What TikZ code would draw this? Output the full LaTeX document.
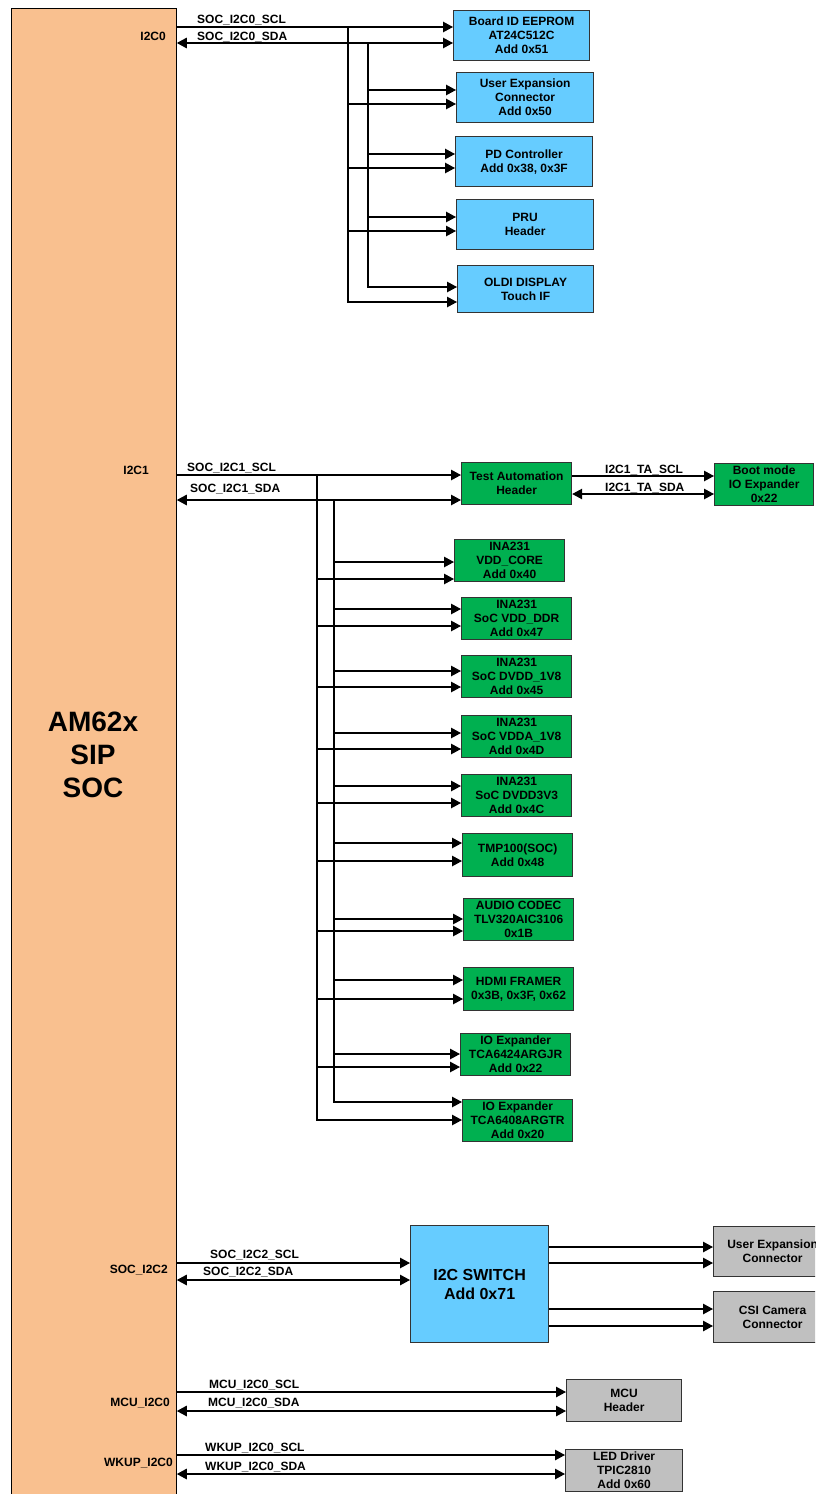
\documentclass[tikz,border=0pt]{standalone}
\usepackage{fontspec}
\setmainfont{Liberation Sans}
\usepackage{tikz}
\usetikzlibrary{arrows.meta}
\usetikzlibrary{positioning}

\definecolor{socorange}{HTML}{F9C08F}
\definecolor{devblue}{HTML}{66CCFF}
\definecolor{devgreen}{HTML}{00B050}
\definecolor{devgrey}{HTML}{C0C0C0}

\tikzset{
    % Solid triangular heads for all the I2C wires
    >={Triangle[length=10pt,width=10.5pt]},
%
    % A single I2C signal wire
    i2c wire/.style={line width=1.2pt},
%
    % The big processor block on the left
    soc block/.style={draw, fill=socorange, line width=0.8pt},
%
    % Boxes for the devices hanging on the buses
    device/.style={
        draw=black!80, line width=1.2pt, align=center, inner sep=0pt,
        anchor=north west, font=\bfseries\fontsize{12}{14}\selectfont},
    blue device/.style={device, fill=devblue},
    green device/.style={device, fill=devgreen},
    grey device/.style={device, fill=devgrey},
%
    % Net names above the wires and port names inside the SoC
    net label/.style={anchor=west, inner sep=0pt, font=\bfseries\fontsize{12}{14}\selectfont},
    port label/.style={anchor=east, inner sep=0pt, font=\bfseries\fontsize{12}{14}\selectfont}}

\begin{document}
\begin{tikzpicture}[x=1pt, y=-1pt]

\useasboundingbox (0,0) rectangle (815,1494);
\clip (0,0) rectangle (815,1494);

% The SoC

\node [soc block, minimum width=165pt, minimum height=1500pt, anchor=north west]
    (soc) at (11,8) {};
\node [align=center, font=\bfseries\fontsize{28}{33}\selectfont] (socname) at (93,755)
    {AM62x\\SIP\\SOC};

\node [port label] (p i2c0) at (166,36) {I2C0};
\node [port label] (p i2c1) at (149,470) {I2C1};
\node [port label] (p i2c2) at (168,1270) {SOC\_I2C2};
\node [port label] (p mcu) at (170,1403) {MCU\_I2C0};
\node [port label] (p wkup) at (173,1463) {WKUP\_I2C0};

% I2C0 devices

\node [blue device, minimum width=136pt, minimum height=50pt] (eeprom) at (453,10)
    {Board ID EEPROM\\AT24C512C\\Add 0x51};
\node [blue device, minimum width=137pt, minimum height=50pt] (ue0) at (456,72)
    {User Expansion\\Connector\\Add 0x50};
\node [blue device, minimum width=137pt, minimum height=50pt] (pd) at (455,136)
    {PD Controller\\Add 0x38, 0x3F};
\node [blue device, minimum width=137pt, minimum height=50pt] (pru) at (456,199)
    {PRU\\Header};
\node [blue device, minimum width=136pt, minimum height=47pt] (oldi) at (457,265)
    {OLDI DISPLAY\\Touch IF};

\coordinate (scl0 bus) at (348,27);
\coordinate (sda0 bus) at (368,43);

\draw [i2c wire, ->] (soc.east |- scl0 bus) -- (eeprom.west |- scl0 bus);
\draw [i2c wire, <->] (soc.east |- sda0 bus) -- (eeprom.west |- sda0 bus);
\node [net label] (n scl0) at (197,20) {SOC\_I2C0\_SCL};
\node [net label] (n sda0) at (197,37) {SOC\_I2C0\_SDA};

\foreach \dev/\ya/\yb in {ue0/90/104, pd/154/168, pru/217/231}
{
    \draw [i2c wire, ->] (sda0 bus |- 0,\ya) -- (\dev.west |- 0,\ya);
    \draw [i2c wire, ->] (scl0 bus |- 0,\yb) -- (\dev.west |- 0,\yb);
}
\draw [i2c wire, ->] (sda0 bus) |- (oldi.west |- 0,287);
\draw [i2c wire, ->] (scl0 bus) |- (oldi.west |- 0,302);

% I2C1 devices

\node [green device, minimum width=110pt, minimum height=42pt] (tah) at (461,462)
    {Test Automation\\Header};
\node [green device, minimum width=99pt, minimum height=42pt] (boot) at (714,463)
    {Boot mode\\IO Expander\\0x22};
\node [green device, minimum width=110pt, minimum height=42pt] (vddcore) at (454,539)
    {INA231\\VDD\_CORE\\Add 0x40};
\node [green device, minimum width=110pt, minimum height=42pt] (vddddr) at (461,597)
    {INA231\\SoC VDD\_DDR\\Add 0x47};
\node [green device, minimum width=110pt, minimum height=42pt] (dvdd) at (461,655)
    {INA231\\SoC DVDD\_1V8\\Add 0x45};
\node [green device, minimum width=110pt, minimum height=42pt] (vdda) at (461,715)
    {INA231\\SoC VDDA\_1V8\\Add 0x4D};
\node [green device, minimum width=110pt, minimum height=42pt] (dvddio) at (461,774)
    {INA231\\SoC DVDD3V3\\Add 0x4C};
\node [green device, minimum width=110pt, minimum height=43pt] (tmp) at (462,833)
    {TMP100(SOC)\\Add 0x48};
\node [green device, minimum width=110pt, minimum height=42pt] (codec) at (463,898)
    {AUDIO CODEC\\TLV320AIC3106\\0x1B};
\node [green device, minimum width=110pt, minimum height=43pt] (hdmi) at (463,967)
    {HDMI FRAMER\\0x3B, 0x3F, 0x62};
\node [green device, minimum width=110pt, minimum height=42pt] (ioexpa) at (460,1033)
    {IO Expander\\TCA6424ARGJR\\Add 0x22};
\node [green device, minimum width=110pt, minimum height=42pt] (ioexpb) at (462,1099)
    {IO Expander\\TCA6408ARGTR\\Add 0x20};

\coordinate (scl1 bus) at (317,475);
\coordinate (sda1 bus) at (334,500);

\draw [i2c wire, ->] (soc.east |- scl1 bus) -- (tah.west |- scl1 bus);
\draw [i2c wire, <->] (soc.east |- sda1 bus) -- (tah.west |- sda1 bus);
\node [net label] (n scl1) at (187,468) {SOC\_I2C1\_SCL};
\node [net label] (n sda1) at (190,489) {SOC\_I2C1\_SDA};

\draw [i2c wire, ->] (tah.east |- 0,476) -- (boot.west |- 0,476);
\draw [i2c wire, <->] (tah.east |- 0,494) -- (boot.west |- 0,494);
\node [net label] (n ta scl) at (605,470) {I2C1\_TA\_SCL};
\node [net label] (n ta sda) at (605,488) {I2C1\_TA\_SDA};

\foreach \dev/\ya/\yb in {vddcore/562/579, vddddr/609/626, dvdd/671/687,
    vdda/733/749, dvddio/786/803, tmp/843/861, codec/919/931,
    hdmi/980/999, ioexpa/1054/1067}
{
    \draw [i2c wire, ->] (sda1 bus |- 0,\ya) -- (\dev.west |- 0,\ya);
    \draw [i2c wire, ->] (scl1 bus |- 0,\yb) -- (\dev.west |- 0,\yb);
}
\draw [i2c wire, ->] (sda1 bus) |- (ioexpb.west |- 0,1102);
\draw [i2c wire, ->] (scl1 bus) |- (ioexpb.west |- 0,1120);

% I2C2 through the switch

\node [blue device, minimum width=138pt, minimum height=117pt,
    font=\bfseries\fontsize{16}{19}\selectfont] (sw) at (410,1225)
    {I2C SWITCH\\Add 0x71};
\node [grey device, minimum width=118pt, minimum height=50pt] (ue2) at (713,1226)
    {User Expansion\\Connector};
\node [grey device, minimum width=118pt, minimum height=51pt] (csi) at (713,1291)
    {CSI Camera\\Connector};

\draw [i2c wire, ->] (soc.east |- 0,1263) -- (sw.west |- 0,1263);
\draw [i2c wire, <->] (soc.east |- 0,1280) -- (sw.west |- 0,1280);
\node [net label] (n scl2) at (210,1255) {SOC\_I2C2\_SCL};
\node [net label] (n sda2) at (203,1272) {SOC\_I2C2\_SDA};

\foreach \dev/\ya/\yb in {ue2/1247/1263, csi/1309/1326}
{
    \draw [i2c wire, ->] (sw.east |- 0,\ya) -- (\dev.west |- 0,\ya);
    \draw [i2c wire, ->] (sw.east |- 0,\yb) -- (\dev.west |- 0,\yb);
}

% MCU and wakeup domains

\node [grey device, minimum width=115pt, minimum height=42pt] (mcu) at (566,1379)
    {MCU\\Header};
\node [grey device, minimum width=117pt, minimum height=42pt] (led) at (565,1449)
    {LED Driver\\TPIC2810\\Add 0x60};

\draw [i2c wire, ->] (soc.east |- 0,1392) -- (mcu.west |- 0,1392);
\draw [i2c wire, <->] (soc.east |- 0,1411) -- (mcu.west |- 0,1411);
\node [net label] (n scl mcu) at (209,1385) {MCU\_I2C0\_SCL};
\node [net label] (n sda mcu) at (208,1403) {MCU\_I2C0\_SDA};

\draw [i2c wire, ->] (soc.east |- 0,1455) -- (led.west |- 0,1455);
\draw [i2c wire, <->] (soc.east |- 0,1474) -- (led.west |- 0,1474);
\node [net label] (n scl wkup) at (205,1448) {WKUP\_I2C0\_SCL};
\node [net label] (n sda wkup) at (205,1467) {WKUP\_I2C0\_SDA};

\end{tikzpicture}
\end{document}
